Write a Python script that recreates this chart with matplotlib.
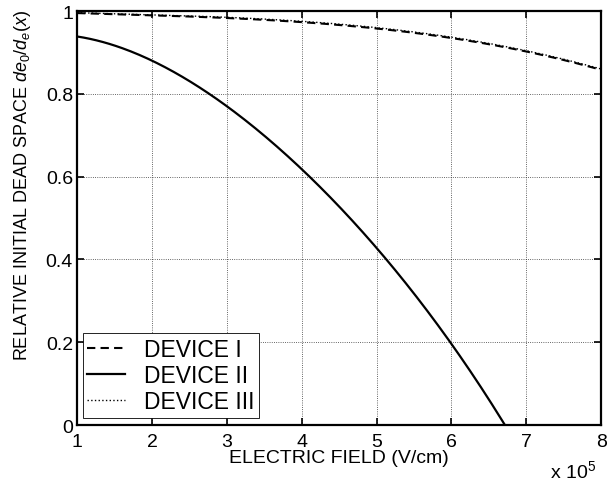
import numpy as np
import matplotlib
matplotlib.use('Agg')
import matplotlib.pyplot as plt

plt.rcParams['font.family'] = ['Liberation Sans', 'DejaVu Sans']
plt.rcParams['mathtext.fontset'] = 'custom'
plt.rcParams['mathtext.rm'] = 'Liberation Sans'
plt.rcParams['mathtext.it'] = 'Liberation Sans:italic'

# field in units of 1e5 V/cm
field_1 = [1, 2, 3, 4, 5, 6, 7, 8]
device_1 = [0.995, 0.990, 0.983, 0.973, 0.958, 0.935, 0.902, 0.858]

field_2 = [1, 1.5, 2, 2.5, 3, 3.5, 4, 4.5, 5, 5.5, 6, 6.5, 6.71]
device_2 = [0.940, 0.914, 0.880, 0.831, 0.772, 0.700, 0.618, 0.527, 0.425, 0.317, 0.200, 0.062, 0.0]

field_3 = [1, 2, 3, 4, 5, 6, 7, 8]
device_3 = [0.996, 0.991, 0.985, 0.975, 0.960, 0.937, 0.904, 0.860]

labels = ['DEVICE I', 'DEVICE II', 'DEVICE III']
xticks = [1, 2, 3, 4, 5, 6, 7, 8]
yticks = [0, 0.2, 0.4, 0.6, 0.8, 1]
yticklabels = ['0', '0.2', '0.4', '0.6', '0.8', '1']


def smooth(x, y, n=200):
    # low order fit through the read points, just to draw a smooth curve
    xs = np.linspace(x[0], x[-1], n)
    c = np.polyfit(x, y, min(4, len(x) - 1))
    return xs, np.polyval(c, xs)


fig = plt.figure(figsize=(6.07, 4.85), dpi=100)
ax = fig.add_axes([0.127, 0.1216, 0.8633, 0.8536])

x1, y1 = smooth(field_1, device_1)
x2, y2 = smooth(field_2, device_2)
x3, y3 = smooth(field_3, device_3)

ax.plot(x1, y1, '--', color='black', lw=1.5, dashes=(4, 2.5), label=labels[0])
ax.plot(x2, y2, '-', color='black', lw=1.6, label=labels[1])
ax.plot(x3, y3, ':', color='black', lw=1.0, label=labels[2])

ax.set_xlim(1, 8)
ax.set_ylim(0, 1)
ax.set_xticks(xticks)
ax.set_yticks(yticks)
ax.set_yticklabels(yticklabels)

ax.grid(True, linestyle=':', color='black', lw=0.6, alpha=0.8)
ax.tick_params(direction='in', top=True, right=True, length=5, width=1.2, labelsize=14)
ax.tick_params(axis='x', pad=6)
ax.tick_params(axis='y', pad=3)
for s in ax.spines.values():
    s.set_linewidth(1.6)

ax.set_xlabel('ELECTRIC FIELD (V/cm)', fontsize=14, va='top')
ax.xaxis.set_label_coords(0.5, -0.058)
ax.set_ylabel(r'RELATIVE INITIAL DEAD SPACE $de_0$/$d_e$($x$)', fontsize=13)
ax.yaxis.set_label_coords(-0.085, 0.58)

ax.text(0.99, -0.125, r'x 10$^5$', transform=ax.transAxes, ha='right', va='baseline', fontsize=14)

leg = ax.legend(loc='lower left', bbox_to_anchor=(0.011, 0.017), borderaxespad=0,
                fontsize=16.5, fancybox=False, framealpha=1, edgecolor='black',
                handlelength=1.65, handletextpad=0.8, labelspacing=0.15, borderpad=0.2)
leg.get_frame().set_linewidth(0.6)

fig.savefig('out.png', dpi=100)
